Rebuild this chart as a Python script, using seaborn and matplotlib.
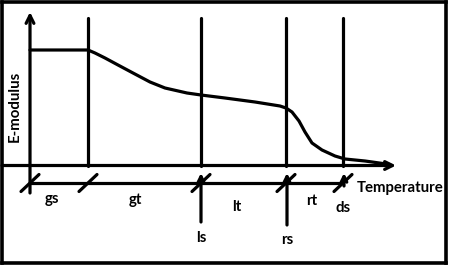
import matplotlib
matplotlib.use("Agg")
import matplotlib.pyplot as plt
import seaborn as sns
import pandas as pd

# ---- data (schematic units: x = temperature, y = E-modulus) ----
curve_temp = [30, 88, 95, 105, 118, 133, 150, 165, 187, 201, 225, 255, 280, 286, 292, 299, 305, 312, 322, 335, 345, 365, 390]
curve_modulus = [216, 216, 213, 208, 201, 193, 184, 178, 173, 171, 168, 164, 160, 158, 154, 145, 134, 123, 116, 110, 107, 105, 101.5]

boundary_temps = [88, 201, 286, 343]          # vertical transition lines
tick_temps = [30, 88, 201, 286, 343]           # slashes on the dimension line
point_labels = ["ls", "rs", "ds"]              # arrows pointing up to the scale
point_temps = [201, 287, 344]
region_labels = ["gs", "gt", "lt", "rt"]
region_temps = [52, 135, 237, 312]
region_levels = [67, 66, 59, 65]
x_title = "Temperature"
y_title = "E-modulus"

sns.set_theme(style="white")
plt.rcParams["font.family"] = ["Lato", "DejaVu Sans"]

fig = plt.figure(figsize=(4.5, 2.66), dpi=100)
ax = fig.add_axes([2 / 450, 3 / 266, 444 / 450, 261 / 266])
ax.set_xlim(2, 446)
ax.set_ylim(3, 264)
ax.set_xticks([])
ax.set_yticks([])
for s in ax.spines.values():
    s.set_visible(True)
    s.set_color("black")
    s.set_linewidth(2.6)

LW = 2.3
axis_y = 100.5
scale_y = 83
line_kw = dict(color="black", lw=LW, ax=ax, estimator=None, sort=False)

# curve
df = pd.DataFrame({"T": curve_temp, "E": curve_modulus})
sns.lineplot(data=df, x="T", y="E", **line_kw)

# vertical transition lines
for t in boundary_temps:
    sns.lineplot(x=[t, t], y=[axis_y, 248], **line_kw)

# axes arrows
arrow = dict(arrowstyle="->", lw=LW, color="black", mutation_scale=14,
             shrinkA=0, shrinkB=0)
ax.annotate("", xy=(30, 254), xytext=(30, 73), arrowprops=arrow)
ax.annotate("", xy=(396, axis_y), xytext=(2, axis_y), arrowprops=arrow)

# dimension line
sns.lineplot(x=[30, 343], y=[scale_y, scale_y], **line_kw)
for t in tick_temps:
    sns.lineplot(x=[t - 9, t + 9], y=[scale_y - 8.5, scale_y + 8.5], **line_kw)

# point arrows below the axis
starts = [44, 41, 80]
small_arrow = dict(arrowstyle="->", lw=LW, color="black", mutation_scale=10,
                   shrinkA=0, shrinkB=0)
for t, y0 in zip(point_temps, starts):
    ax.annotate("", xy=(t, 93), xytext=(t, y0), arrowprops=small_arrow)

font = dict(fontsize=10.8, fontweight="bold", color="black")
for lab, t, lv in zip(region_labels, region_temps, region_levels):
    ax.text(t, lv, lab, ha="center", va="center", **font)
ax.text(343, 58, "ds", ha="center", va="center", **font)
ax.text(201, 28, "ls", ha="center", va="center", **font)
ax.text(287, 26, "rs", ha="center", va="center", **font)
ax.text(357, 78, x_title, ha="left", va="center", **font)
ax.text(14.5, 160, y_title, ha="center", va="center", rotation=90, **font)

ax.set_xlabel("")
ax.set_ylabel("")
fig.savefig("out.png", dpi=100)
